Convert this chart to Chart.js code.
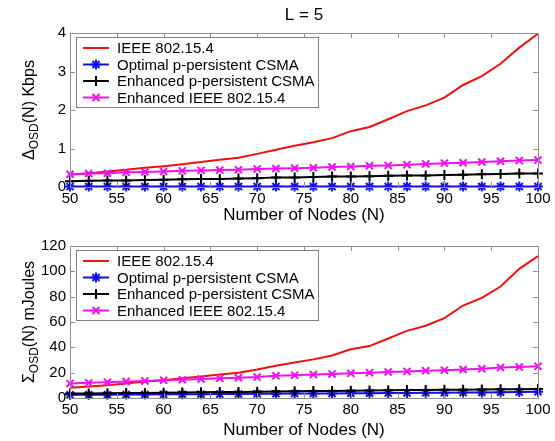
<!DOCTYPE html>
<html>
<head>
<meta charset="utf-8">
<script src="https://cdn.jsdelivr.net/npm/chart.js@4.4.0/dist/chart.umd.min.js"></script>
<style>
  body { margin: 0; background: #fff; }
  #wrap { position: relative; width: 555px; height: 441px; }
  #c1 { position: absolute; left: 0; top: 0; }
  #c2 { position: absolute; left: 0; top: 220px; }
</style>
</head>
<body>
<div id="wrap">
  <canvas id="c1" width="555" height="226"></canvas>
  <canvas id="c2" width="555" height="221"></canvas>
</div>
<script>
// number of nodes, one point every 2 nodes
var nodes = [50,52,54,56,58,60,62,64,66,68,70,72,74,76,78,80,82,84,86,88,90,92,94,96,98,100];
var xTicks = [50,55,60,65,70,75,80,85,90,95,100];
var names = ["IEEE 802.15.4", "Optimal p-persistent CSMA", "Enhanced p-persistent CSMA", "Enhanced IEEE 802.15.4"];

// top plot : delta OSD (Kbps)
var thrIeee    = [0.32,0.36,0.40,0.45,0.50,0.54,0.59,0.65,0.71,0.76,0.86,0.97,1.07,1.16,1.27,1.45,1.56,1.76,1.97,2.12,2.32,2.65,2.88,3.20,3.62,3.98];
var thrOptimal = [0.01,0.01,0.01,0.01,0.01,0.01,0.01,0.01,0.01,0.01,0.01,0.01,0.01,0.01,0.01,0.01,0.01,0.01,0.01,0.01,0.01,0.01,0.01,0.01,0.01,0.01];
var thrEnhP    = [0.15,0.16,0.17,0.17,0.18,0.19,0.20,0.21,0.21,0.22,0.23,0.25,0.25,0.26,0.27,0.27,0.28,0.29,0.30,0.30,0.31,0.32,0.33,0.34,0.35,0.35];
var thrEnhIeee = [0.33,0.35,0.36,0.38,0.39,0.40,0.42,0.43,0.44,0.45,0.47,0.48,0.49,0.50,0.52,0.53,0.55,0.56,0.58,0.60,0.62,0.63,0.65,0.67,0.69,0.70];
var thrTicks = [0,1,2,3,4];

// bottom plot : sigma OSD (mJoules)
var enIeee    = [8,9,10,11.5,13,14,15.5,17,18.5,20,22.5,25.5,28,30.5,33.5,38.5,41,47,53,57,63,73,79,88,102,112];
var enOptimal = [2.5,2.6,2.6,2.7,2.8,2.9,3.0,3.0,3.1,3.2,3.3,3.4,3.5,3.5,3.6,3.7,3.8,3.9,4.0,4.1,4.2,4.3,4.4,4.6,4.7,4.9];
var enEnhP    = [3.5,3.6,3.8,3.9,4.0,4.2,4.4,4.5,4.7,4.8,5.0,5.2,5.3,5.5,5.6,5.8,6.0,6.1,6.3,6.4,6.5,6.6,6.8,6.9,7.0,7.1];
var enEnhIeee = [11.5,12,12.5,13,13.5,14,14.5,15,15.5,16,16.5,17.5,18,18.5,19,19.5,20,20.5,21,21.5,22,22.5,23,24,24.5,25];
var enTicks = [0,20,40,60,80,100,120];

var FONT = "'Liberation Sans', Arial, sans-serif";
var colors = ["#f01010", "#1010f0", "#000000", "#f010f0"];
var styles = [false, "star", "cross", "crossRot"];

function pts(vals) {
  return nodes.map(function (n, i) { return { x: n, y: vals[i] }; });
}

function makeSets(series) {
  return series.map(function (vals, i) {
    return {
      label: names[i],
      data: pts(vals),
      borderColor: colors[i],
      backgroundColor: colors[i],
      borderWidth: 2,
      pointStyle: styles[i],
      pointRadius: styles[i] ? 5 : 0,
      pointBorderWidth: 2,
      clip: false,
      order: 4 - i
    };
  });
}

// matlab style box, inner ticks, legend box and y title
var matlabFrame = {
  id: "matlabFrame",
  afterDatasetsDraw: function (chart, args, o) {
    var ctx = chart.ctx, a = chart.chartArea;
    var xs = chart.scales.x, ys = chart.scales.y;
    ctx.save();
    ctx.strokeStyle = "#909090";
    ctx.lineWidth = 1;
    ctx.strokeRect(a.left + 0.5, a.top + 0.5, a.right - a.left, a.bottom - a.top);
    ctx.beginPath();
    xTicks.forEach(function (v) {
      var px = Math.round(xs.getPixelForValue(v)) + 0.5;
      ctx.moveTo(px, a.bottom); ctx.lineTo(px, a.bottom - 5);
      ctx.moveTo(px, a.top); ctx.lineTo(px, a.top + 5);
    });
    o.yTicks.forEach(function (v) {
      var py = Math.round(ys.getPixelForValue(v)) + 0.5;
      ctx.moveTo(a.left, py); ctx.lineTo(a.left + 5, py);
      ctx.moveTo(a.right, py); ctx.lineTo(a.right - 5, py);
    });
    ctx.stroke();

    // legend
    var lx = a.left + 6, ly = a.top + 4, lw = 242, lh = 70;
    ctx.fillStyle = "#fff";
    ctx.fillRect(lx, ly, lw, lh);
    ctx.strokeStyle = "#808080";
    ctx.strokeRect(lx + 0.5, ly + 0.5, lw, lh);
    ctx.font = "15px " + FONT;
    ctx.textBaseline = "middle";
    chart.data.datasets.forEach(function (ds, i) {
      var yy = ly + 11 + i * 16.5;
      ctx.strokeStyle = ds.borderColor;
      ctx.lineWidth = 2;
      ctx.beginPath();
      ctx.moveTo(lx + 7, yy); ctx.lineTo(lx + 33, yy);
      ctx.stroke();
      if (ds.pointStyle) {
        ctx.fillStyle = ds.borderColor;
        Chart.helpers.drawPoint(ctx, { pointStyle: ds.pointStyle, radius: 5, borderWidth: 2, rotation: 0 }, lx + 20, yy);
      }
      ctx.fillStyle = "#000";
      ctx.fillText(ds.label, lx + 41, yy + 1);
    });

    // y title with subscript
    var cy = (a.top + a.bottom) / 2;
    ctx.translate(30, cy);
    ctx.rotate(-Math.PI / 2);
    ctx.fillStyle = "#000";
    ctx.textBaseline = "alphabetic";
    ctx.font = "16px " + FONT;
    var w1 = ctx.measureText(o.yTitle[0]).width;
    var w3 = ctx.measureText(o.yTitle[2]).width;
    ctx.font = "12px " + FONT;
    var w2 = ctx.measureText(o.yTitle[1]).width;
    var x0 = -(w1 + w2 + w3) / 2;
    ctx.font = "16px " + FONT;
    ctx.fillText(o.yTitle[0], x0, 4);
    ctx.font = "12px " + FONT;
    ctx.fillText(o.yTitle[1], x0 + w1, 8);
    ctx.font = "16px " + FONT;
    ctx.fillText(o.yTitle[2], x0 + w1 + w2, 4);

    ctx.restore();
    if (o.title) {
      ctx.save();
      ctx.font = "17px " + FONT;
      ctx.fillStyle = "#000";
      ctx.textAlign = "center";
      ctx.textBaseline = "middle";
      ctx.fillText(o.title, (a.left + a.right) / 2, 15);
      ctx.restore();
    }
  }
};

function makeChart(id, series, yMax, yTicks, top, xH, yTitle, title) {
  return new Chart(document.getElementById(id), {
    type: "line",
    data: { datasets: makeSets(series) },
    plugins: [matlabFrame],
    options: {
      responsive: false,
      animation: false,
      layout: { padding: { left: 0, right: 17, top: top, bottom: 0 } },
      plugins: {
        legend: { display: false },
        tooltip: { enabled: false },
        matlabFrame: { yTicks: yTicks, yTitle: yTitle, title: title }
      },
      scales: {
        x: {
          type: "linear", min: 50, max: 100,
          afterBuildTicks: function (s) { s.ticks = xTicks.map(function (v) { return { value: v }; }); },
          afterFit: function (s) { s.height = xH; },
          grid: { display: false, drawTicks: false },
          border: { display: false },
          ticks: { color: "#000", font: { family: FONT, size: 15 }, padding: 3, maxRotation: 0 },
          title: { display: true, text: "Number of Nodes (N)", color: "#000", font: { family: FONT, size: 17 }, padding: { top: 0, bottom: 0 } }
        },
        y: {
          min: 0, max: yMax,
          afterBuildTicks: function (s) { s.ticks = yTicks.map(function (v) { return { value: v }; }); },
          afterFit: function (s) { s.width = 70; },
          grid: { display: false, drawTicks: false },
          border: { display: false },
          ticks: { color: "#000", font: { family: FONT, size: 15 }, padding: 4 }
        }
      }
    }
  });
}

makeChart("c1", [thrIeee, thrOptimal, thrEnhP, thrEnhIeee], 4, thrTicks, 33, 39,
  ["\u0394", "OSD", "(N) Kbps"], "L = 5");
makeChart("c2", [enIeee, enOptimal, enEnhP, enEnhIeee], 120, enTicks, 26, 43,
  ["\u03A3", "OSD", "(N) mJoules"], null);
</script>
</body>
</html>
